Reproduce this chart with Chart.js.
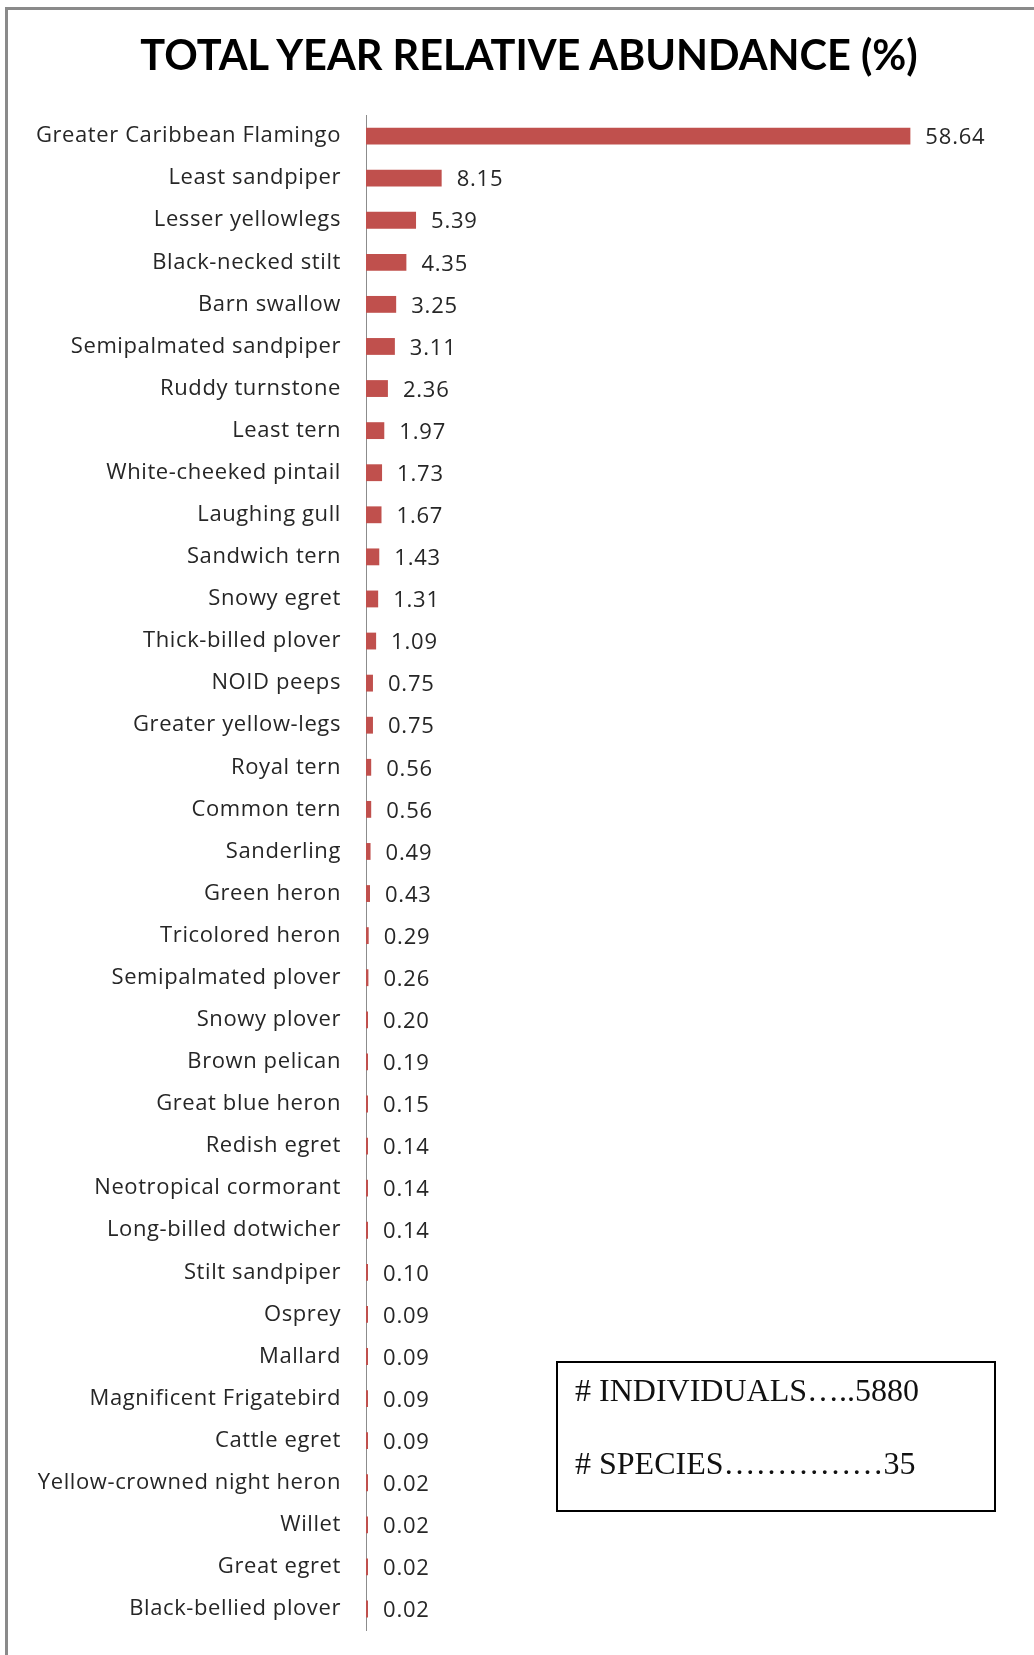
<!DOCTYPE html>
<html>
<head>
<meta charset="utf-8">
<script src="https://cdn.jsdelivr.net/npm/chart.js@4/dist/chart.umd.min.js"></script>
<style>
  body { margin: 0; background: #fff; }
  #wrap { position: relative; width: 1034px; height: 1655px; overflow: hidden; }
  #frame { position: absolute; left: 5px; top: 7px; right: -10px; bottom: -10px;
    border-left: 3px solid #8a8a8a; border-top: 3px solid #8a8a8a; }
  #chart { position: absolute; left: 0; top: 0; }
  #title { position: absolute; left: 29px; top: 29px; width: 1000px; text-align: center;
    font-family: "Lato", sans-serif; font-weight: bold; font-size: 41.5px; line-height: 50px;
    color: #000; white-space: nowrap; }
  #stats { position: absolute; left: 556px; top: 1361px; width: 436px; height: 147px;
    border: 2px solid #000; font-family: "Liberation Serif", "Times New Roman", serif;
    font-size: 32px; color: #111; }
  #stats div { position: absolute; left: 17px; line-height: 32px; white-space: nowrap; }
</style>
</head>
<body>
<div id="wrap">
  <div id="frame"></div>
  <canvas id="chart" width="1034" height="1655"></canvas>
  <div id="title">TOTAL YEAR RELATIVE ABUNDANCE (%)</div>
  <div id="stats">
    <div style="top:11px"># INDIVIDUALS…..5880</div>
    <div style="top:84px"># SPECIES……………35</div>
  </div>
</div>
<script>
const species = [
  "Greater Caribbean Flamingo", "Least sandpiper", "Lesser yellowlegs", "Black-necked stilt",
  "Barn swallow", "Semipalmated sandpiper", "Ruddy turnstone", "Least tern",
  "White-cheeked pintail", "Laughing gull", "Sandwich tern", "Snowy egret",
  "Thick-billed plover", "NOID peeps", "Greater yellow-legs", "Royal tern",
  "Common tern", "Sanderling", "Green heron", "Tricolored heron",
  "Semipalmated plover", "Snowy plover", "Brown pelican", "Great blue heron",
  "Redish egret", "Neotropical cormorant", "Long-billed dotwicher", "Stilt sandpiper",
  "Osprey", "Mallard", "Magnificent Frigatebird", "Cattle egret",
  "Yellow-crowned night heron", "Willet", "Great egret", "Black-bellied plover"
];
const abundance = [
  58.64, 8.15, 5.39, 4.35, 3.25, 3.11, 2.36, 1.97, 1.73, 1.67, 1.43, 1.31,
  1.09, 0.75, 0.75, 0.56, 0.56, 0.49, 0.43, 0.29, 0.26, 0.20, 0.19, 0.15,
  0.14, 0.14, 0.14, 0.10, 0.09, 0.09, 0.09, 0.09, 0.02, 0.02, 0.02, 0.02
];

const labelFont = '"Open Sans", "Lato", sans-serif';

// wider letter spacing for the axis labels
const spacedText = {
  id: "spacedText",
  beforeDraw(chart) {
    chart.ctx.letterSpacing = "0.6px";
  },
};

// value labels to the right of each bar
const valueLabels = {
  id: "valueLabels",
  afterDatasetsDraw(chart) {
    const ctx = chart.ctx;
    const meta = chart.getDatasetMeta(0);
    ctx.save();
    ctx.letterSpacing = "0.8px";
    ctx.font = "22px " + labelFont;
    ctx.fillStyle = "#262626";
    ctx.textAlign = "left";
    ctx.textBaseline = "middle";
    meta.data.forEach((bar, i) => {
      ctx.fillText(abundance[i].toFixed(2), bar.x + 15, bar.y + 2);
    });
    ctx.restore();
  },
};

new Chart(document.getElementById("chart"), {
  type: "bar",
  data: {
    labels: species,
    datasets: [
      {
        data: abundance,
        backgroundColor: "#c0504d",
        borderWidth: 0,
        barPercentage: 0.4,
        categoryPercentage: 1,
        minBarLength: 2,
      },
    ],
  },
  options: {
    indexAxis: "y",
    responsive: false,
    animation: false,
    layout: { padding: { left: 0, right: 111, top: 115, bottom: 25 } },
    plugins: {
      legend: { display: false },
      tooltip: { enabled: false },
      title: { display: false },
    },
    scales: {
      x: { display: false, min: 0, max: 60 },
      y: {
        afterFit(scale) {
          scale.width = 366;
          scale.paddingTop = 0;
          scale.paddingBottom = 0;
        },
        grid: { display: false, drawTicks: false },
        border: { display: true, color: "#8c8c8c", width: 1 },
        ticks: {
          padding: 25,
          color: "#262626",
          font: { family: labelFont, size: 22 },
          autoSkip: false,
        },
      },
    },
  },
  plugins: [spacedText, valueLabels],
});
</script>
</body>
</html>
